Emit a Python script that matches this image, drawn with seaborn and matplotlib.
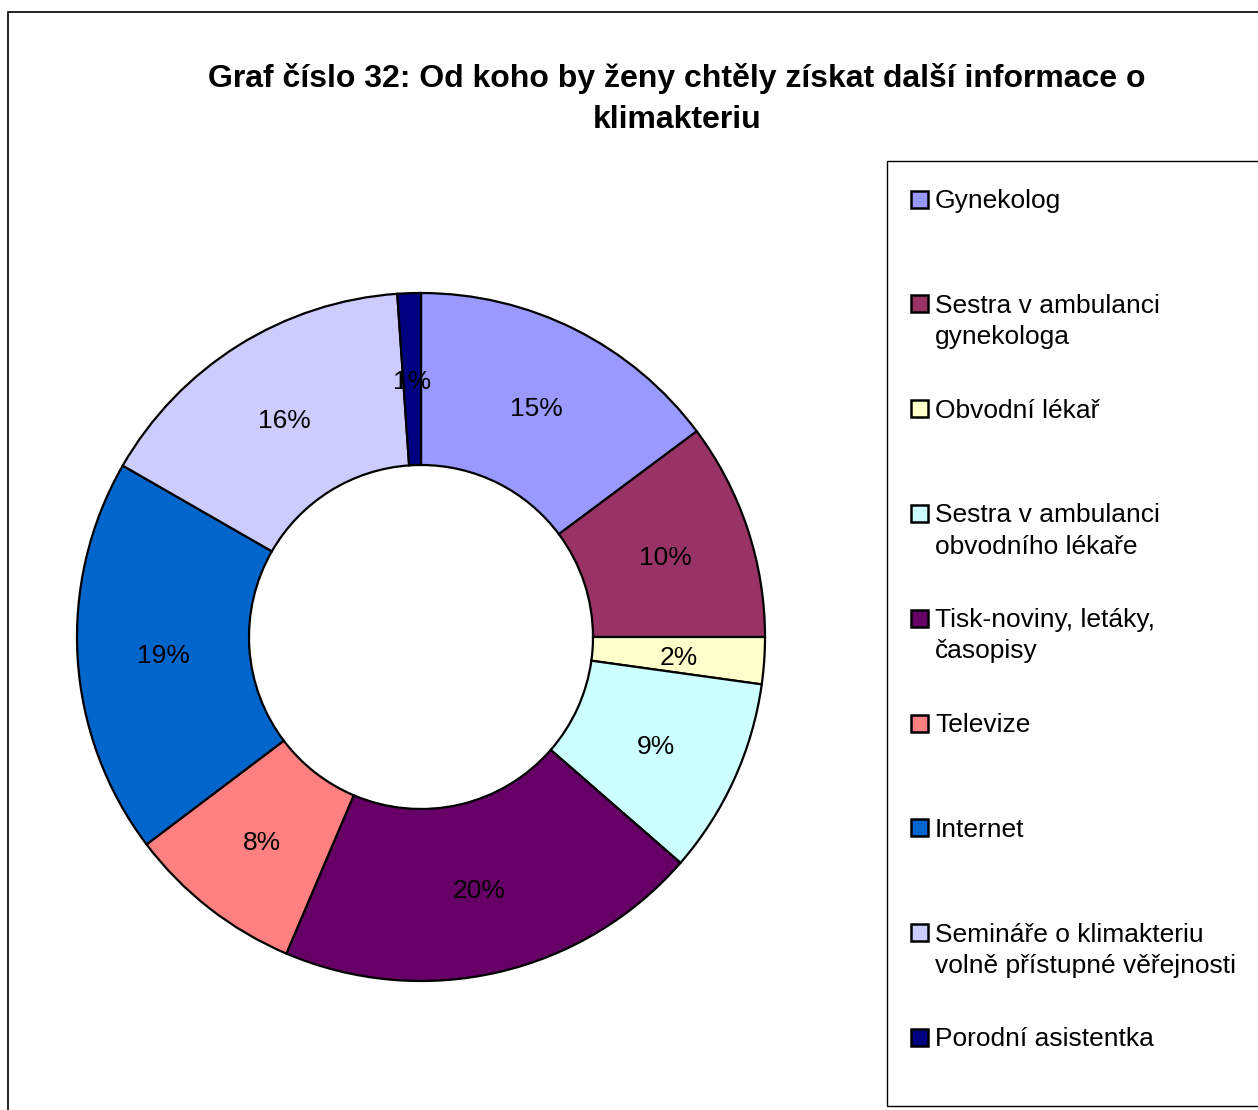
import matplotlib
matplotlib.use("Agg")
import matplotlib.pyplot as plt
import seaborn as sns
from matplotlib.patches import Rectangle

categories = ["Gynekolog", "Sestra v ambulanci\ngynekologa", "Obvodní lékař",
              "Sestra v ambulanci\nobvodního lékaře", "Tisk-noviny, letáky,\nčasopisy",
              "Televize", "Internet", "Semináře o klimakteriu\nvolně přístupné věřejnosti",
              "Porodní asistentka"]
values = [14.8, 10.2, 2.2, 9.2, 20.0, 8.3, 18.6, 15.6, 1.1]
colors_hex = ["#9999FF", "#993366", "#FFFFCC", "#CCFFFF", "#660066",
              "#FF8080", "#0066CC", "#CCCCFF", "#000080"]
title = "Graf číslo 32: Od koho by ženy chtěly získat další informace o\nklimakteriu"

sns.set_theme(style="white")
plt.rcParams['font.family'] = ['Liberation Sans', 'DejaVu Sans']
plt.rcParams['text.color'] = 'black'

W, H = 1258, 1110
fig = plt.figure(figsize=(W / 100, H / 100), dpi=100)
fig.patch.set_facecolor("white")

# outer frame
fig.patches.append(Rectangle((8 / W, -0.1), 1.2, (H - 12) / H + 0.1, transform=fig.transFigure,
                             fill=False, edgecolor="black", linewidth=1.2, zorder=0))

cx, cy, r = 421, 637, 344
ax = fig.add_axes([(cx - r) / W, (H - cy - r) / H, 2 * r / W, 2 * r / H])
palette = sns.color_palette(colors_hex)
wedges, texts, autotexts = ax.pie(values, colors=palette, startangle=90, counterclock=False,
                                  radius=1.0, autopct=lambda p: f"{p:.0f}%", pctdistance=0.75,
                                  wedgeprops=dict(width=0.5, edgecolor="black", linewidth=1.6),
                                  textprops=dict(fontsize=19, color="black"))
for t in autotexts:
    x, y = t.get_position()
    t.set_position((x, y - 0.008))
ax.set_xlim(-1, 1)
ax.set_ylim(-1, 1)
ax.set_aspect("equal")
ax.axis("off")

fig.text(677 / W, 1 - 99 / H, title, ha="center", va="center", fontsize=23,
         fontweight="bold", linespacing=1.45, color="black")

# legend box
fig.patches.append(Rectangle((887 / W, 1 - 1106 / H), 0.5, (1106 - 161) / H,
                             transform=fig.transFigure, fill=False, edgecolor="black",
                             linewidth=1.0, zorder=1))
y0, dy = 199, 104.8
for i, (lab, col) in enumerate(zip(categories, palette)):
    yc = y0 + i * dy
    fig.patches.append(Rectangle((911 / W, 1 - (yc + 8.5) / H), 17 / W, 17 / H,
                                 transform=fig.transFigure, facecolor=col,
                                 edgecolor="black", linewidth=1.8, zorder=2))
    fig.text(935 / W, 1 - (yc - 10) / H, lab, ha="left", va="top", fontsize=19,
             linespacing=1.38, color="black")

fig.savefig("out.png", dpi=100, facecolor="white")
